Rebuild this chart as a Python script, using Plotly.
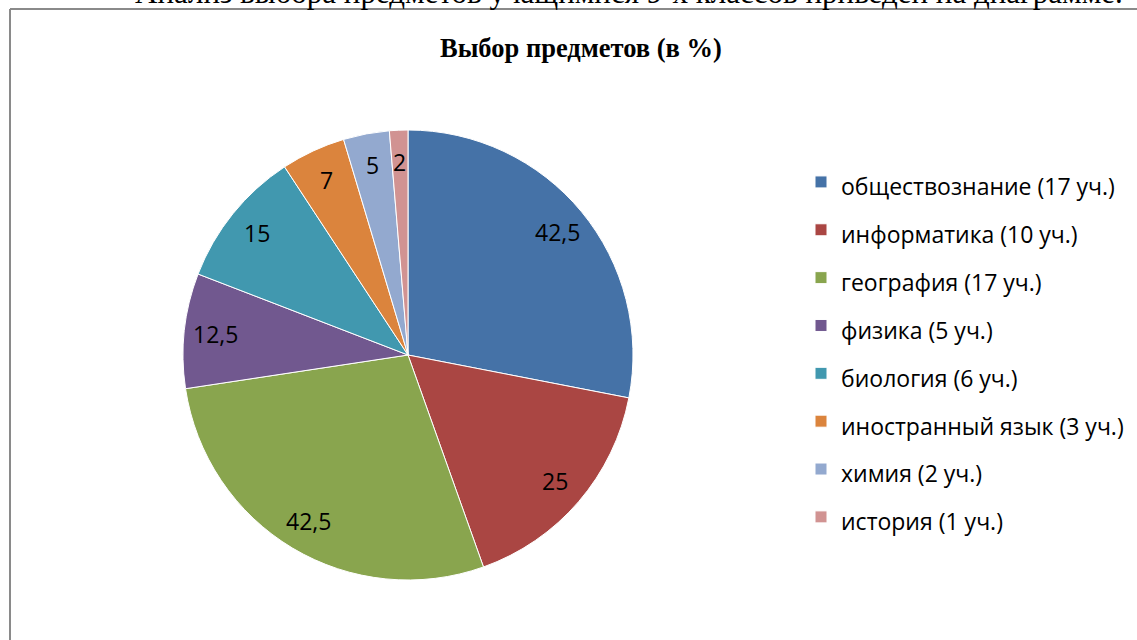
import math
import plotly.graph_objects as go

subjects = ["обществознание", "информатика", "география", "физика",
            "биология", "иностранный язык", "химия", "история"]
students = [17, 10, 17, 5, 6, 3, 2, 1]
percent = [42.5, 25, 42.5, 12.5, 15, 7, 5, 2]
colors = ["#4572A7", "#AA4643", "#89A54E", "#71588F",
          "#4198AF", "#DB843D", "#93A9CF", "#D19392"]

title_text = "Выбор предметов (в %)"
top_text = "Анализ выбора предметов учащимися 9-х классов приведен на диаграмме."

W, H = 1137, 640
# pie area in pixels
cx, cy, r = 408, 355, 225

legend_labels = [f"<span style='font-size:23px'>{s} ({n} уч.)</span>"
                 for s, n in zip(subjects, students)]

fig = go.Figure()
fig.add_trace(go.Pie(
    labels=legend_labels,
    values=percent,
    sort=False,
    direction="clockwise",
    rotation=0,
    marker=dict(colors=colors, line=dict(color="white", width=1)),
    textinfo="none",
    domain=dict(x=[(cx - r) / W, (cx + r) / W],
                y=[1 - (cy + r) / H, 1 - (cy - r) / H]),
    hovertemplate="%{label}: %{value}<extra></extra>",
))

# data labels placed along slice mid-angles
total = sum(percent)
annotations = []
cum = 0.0
for v in percent:
    mid = (cum + v / 2) / total * 2 * math.pi
    cum += v
    rr = 0.86 * r
    px = cx + rr * math.sin(mid)
    py = cy - rr * math.cos(mid)
    annotations.append(dict(
        x=px / W, y=1 - py / H, xref="paper", yref="paper",
        text=f"{v:g}".replace(".", ","), showarrow=False,
        font=dict(family="Open Sans", size=23, color="black"),
        xanchor="center", yanchor="middle"))

annotations.append(dict(
    x=581 / W, y=1 - 48 / H, xref="paper", yref="paper",
    text=f"<b>{title_text}</b>", showarrow=False,
    font=dict(family="Liberation Serif", size=26.5, color="black"),
    xanchor="center", yanchor="middle"))

annotations.append(dict(
    x=133 / W, y=1 - 12 / H, xref="paper", yref="paper",
    text=top_text, showarrow=False,
    font=dict(family="Liberation Serif", size=31, color="black"),
    xanchor="left", yanchor="bottom"))

fig.update_layout(
    width=W, height=H,
    margin=dict(l=0, r=0, t=0, b=0),
    paper_bgcolor="white", plot_bgcolor="white",
    annotations=annotations,
    showlegend=True,
    legend=dict(
        x=801 / W, y=1 - 153 / H, xanchor="left", yanchor="top",
        font=dict(family="Open Sans", size=34.5, color="black"),
        bgcolor="rgba(0,0,0,0)",
    ),
    shapes=[
        dict(type="line", xref="paper", yref="paper",
             x0=10 / W, x1=1.01, y0=1 - 9 / H, y1=1 - 9 / H,
             line=dict(color="#8a8a8a", width=2)),
        dict(type="line", xref="paper", yref="paper",
             x0=10 / W, x1=10 / W, y0=1 - 9 / H, y1=-0.01,
             line=dict(color="#8a8a8a", width=2)),
    ],
)

fig.write_html("out.html",
               config={"displayModeBar": False},
               post_script="document.body.style.margin='0';")
